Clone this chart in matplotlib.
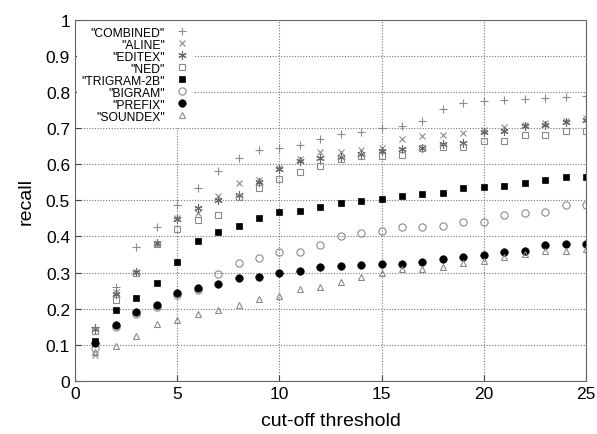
import matplotlib
matplotlib.use('Agg')
import matplotlib.pyplot as plt
from matplotlib.ticker import FuncFormatter

plt.rcParams['font.family'] = ['Liberation Sans', 'DejaVu Sans']

thresholds = list(range(1, 26))

combined = [0.148, 0.26, 0.372, 0.426, 0.487, 0.534, 0.582, 0.617, 0.64, 0.644,
            0.654, 0.67, 0.684, 0.689, 0.70, 0.706, 0.72, 0.753, 0.77, 0.776,
            0.779, 0.781, 0.783, 0.786, 0.79]
aline = [0.072, 0.245, 0.302, 0.38, 0.45, 0.466, 0.513, 0.548, 0.557, 0.59,
         0.613, 0.633, 0.635, 0.64, 0.644, 0.669, 0.678, 0.68, 0.687, 0.694,
         0.702, 0.709, 0.713, 0.72, 0.728]
editex = [0.145, 0.24, 0.302, 0.381, 0.447, 0.48, 0.501, 0.515, 0.552, 0.587,
          0.61, 0.617, 0.62, 0.627, 0.636, 0.643, 0.646, 0.656, 0.659, 0.69,
          0.693, 0.705, 0.709, 0.716, 0.721]
ned = [0.139, 0.225, 0.30, 0.379, 0.421, 0.445, 0.46, 0.51, 0.533, 0.559,
       0.578, 0.596, 0.615, 0.622, 0.624, 0.626, 0.644, 0.647, 0.647, 0.663,
       0.665, 0.681, 0.681, 0.693, 0.693]
trigram_2b = [0.111, 0.195, 0.23, 0.272, 0.328, 0.388, 0.412, 0.43, 0.45, 0.467,
              0.471, 0.481, 0.493, 0.499, 0.504, 0.513, 0.518, 0.52, 0.533, 0.536,
              0.541, 0.547, 0.556, 0.565, 0.565]
bigram = [0.09, 0.148, 0.185, 0.205, 0.238, 0.252, 0.297, 0.327, 0.34, 0.358,
          0.358, 0.377, 0.40, 0.409, 0.414, 0.426, 0.426, 0.429, 0.441, 0.441,
          0.458, 0.465, 0.469, 0.487, 0.487]
prefix = [0.104, 0.155, 0.192, 0.21, 0.244, 0.256, 0.269, 0.285, 0.287, 0.299,
          0.305, 0.315, 0.319, 0.32, 0.325, 0.324, 0.328, 0.337, 0.344, 0.349,
          0.356, 0.361, 0.377, 0.378, 0.38]
soundex = [0.08, 0.096, 0.124, 0.157, 0.17, 0.185, 0.197, 0.21, 0.227, 0.234,
           0.255, 0.259, 0.275, 0.287, 0.30, 0.309, 0.309, 0.315, 0.326, 0.333,
           0.342, 0.351, 0.359, 0.36, 0.365]

series = [
    ('"COMBINED"', combined, dict(marker='+', color='#8a8a8a', ms=6, mew=0.8, mfc='none')),
    ('"ALINE"', aline, dict(marker='x', color='#8a8a8a', ms=5, mew=0.8, mfc='none')),
    ('"EDITEX"', editex, dict(marker=(6, 2, 0), color='#666666', ms=6, mew=0.8, mfc='none')),
    ('"NED"', ned, dict(marker='s', color='#8a8a8a', ms=4.6, mew=0.8, mfc='none')),
    ('"TRIGRAM-2B"', trigram_2b, dict(marker='s', color='black', ms=4.8, mew=0.5, mfc='black')),
    ('"BIGRAM"', bigram, dict(marker='o', color='#8a8a8a', ms=5.2, mew=0.8, mfc='none')),
    ('"PREFIX"', prefix, dict(marker='o', color='black', ms=5.4, mew=0.5, mfc='black')),
    ('"SOUNDEX"', soundex, dict(marker='^', color='#8a8a8a', ms=5, mew=0.8, mfc='none')),
]

fig = plt.figure(figsize=(5.97, 4.35), dpi=100)
ax = fig.add_axes([0.1256, 0.122, 0.856, 0.8304])

for label, vals, style in series:
    ax.plot(thresholds, vals, linestyle='none', label=label, **style)

ax.set_xlim(0, 25)
ax.set_ylim(0, 1)
ax.set_xticks([0, 5, 10, 15, 20, 25])
ax.set_yticks([i / 10 for i in range(11)])
ax.yaxis.set_major_formatter(FuncFormatter(lambda v, p: '%g' % round(v, 1)))
ax.tick_params(direction='in', length=4, labelsize=12.5, color='#444444')
ax.grid(True, linestyle=(0, (1, 1.5)), color='#777777', linewidth=0.8)
for sp in ax.spines.values():
    sp.set_color('#666666')
    sp.set_zorder(6)

ax.set_xlabel('cut-off threshold', fontsize=14, labelpad=8)
ax.set_ylabel('recall', fontsize=14, labelpad=8)

leg = ax.legend(loc='upper left', markerfirst=False, frameon=True, fontsize=8.7,
                handlelength=1.0, handletextpad=0.9, labelspacing=0.0,
                borderaxespad=0.0, borderpad=0.4, numpoints=1,
                bbox_to_anchor=(0.003, 0.994))
leg.get_frame().set_edgecolor('none')
leg.get_frame().set_facecolor('white')
leg.get_frame().set_alpha(1)
for t in leg.get_texts():
    t.set_ha('right')
leg._legend_box.align = 'right'

fig.savefig('out.png', dpi=100)
